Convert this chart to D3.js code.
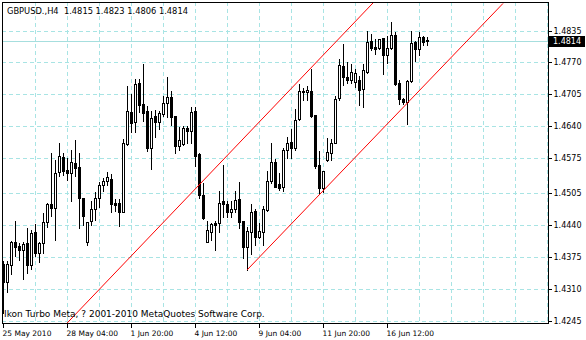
<!DOCTYPE html>
<html>
<head>
<meta charset="utf-8">
<script src="https://cdn.jsdelivr.net/npm/d3@7"></script>
<style>
  body { margin: 0; background: #fff; }
  svg { display: block; font-family: "DejaVu Sans", sans-serif; }
</style>
</head>
<body>
<svg id="chart" width="586" height="340"></svg>
<script>
// GBPUSD H4, 25 May 2010 12:00 onwards (one entry per 4h bar)
const symbol = "GBPUSD.,H4"
const copyright = "Ikon Turbo Meta, ? 2001-2010 MetaQuotes Software Corp."

const open = [
  1.4360,1.4324,1.4359,1.4404,1.4396,1.4389,1.4402,1.4359,1.4425,1.4383,
  1.4402,1.4445,1.4482,1.4474,1.4547,1.4578,1.4551,1.4545,1.4566,1.4557,
  1.4494,1.4404,1.4448,1.4472,1.4494,1.4520,1.4530,1.4534,1.4484,1.4484,
  1.4467,1.4604,1.4670,1.4648,1.4728,1.4686,1.4671,1.4596,1.4661,1.4648,
  1.4665,1.4687,1.4700,1.4661,1.4600,1.4604,1.4636,1.4631,1.4671,1.4584,
  1.4501,1.4406,1.4426,1.4443,1.4443,1.4488,1.4482,1.4465,1.4472,1.4492,
  1.4448,1.4395,1.4425,1.4468,1.4416,1.4426,1.4470,1.4529,1.4567,1.4522,
  1.4517,1.4592,1.4608,1.4596,1.4655,1.4709,1.4709,1.4711,1.4663,1.4562,
  1.4514,1.4572,1.4585,1.4606,1.4697,1.4763,1.4740,1.4734,1.4731,1.4734,
  1.4717,1.4751,1.4814,1.4801,1.4800,1.4819,1.4785,1.4799,1.4826,1.4728,
  1.4696,1.4690,1.4733,1.4811,1.4797,1.4821,1.4815
]
const high = [
  1.4368,1.4368,1.4409,1.4450,1.4404,1.4408,1.4436,1.4431,1.4443,1.4408,
  1.4467,1.4487,1.4587,1.4574,1.4608,1.4587,1.4577,1.4594,1.4614,1.4587,
  1.4496,1.4448,1.4490,1.4509,1.4530,1.4538,1.4549,1.4545,1.4494,1.4494,
  1.4616,1.4724,1.4707,1.4738,1.4738,1.4768,1.4684,1.4673,1.4675,1.4673,
  1.4704,1.4742,1.4715,1.4663,1.4641,1.4643,1.4643,1.4682,1.4682,1.4587,
  1.4528,1.4450,1.4446,1.4450,1.4511,1.4564,1.4490,1.4490,1.4511,1.4529,
  1.4450,1.4438,1.4484,1.4475,1.4446,1.4480,1.4551,1.4608,1.4575,1.4547,
  1.4599,1.4621,1.4637,1.4677,1.4728,1.4721,1.4724,1.4758,1.4665,1.4592,
  1.4551,1.4618,1.4616,1.4704,1.4779,1.4809,1.4773,1.4768,1.4758,1.4745,
  1.4768,1.4836,1.4829,1.4819,1.4819,1.4821,1.4826,1.4854,1.4833,1.4736,
  1.4700,1.4736,1.4836,1.4816,1.4833,1.4826,1.4823
]
const low = [
  1.4261,1.4304,1.4340,1.4377,1.4368,1.4330,1.4341,1.4350,1.4377,1.4365,
  1.4383,1.4435,1.4458,1.4409,1.4540,1.4541,1.4531,1.4489,1.4540,1.4434,
  1.4440,1.4399,1.4440,1.4450,1.4476,1.4508,1.4521,1.4466,1.4468,1.4438,
  1.4466,1.4603,1.4629,1.4629,1.4670,1.4650,1.4589,1.4553,1.4618,1.4634,
  1.4661,1.4659,1.4643,1.4585,1.4592,1.4602,1.4607,1.4607,1.4560,1.4494,
  1.4452,1.4404,1.4409,1.4389,1.4425,1.4456,1.4456,1.4456,1.4466,1.4433,
  1.4373,1.4348,1.4380,1.4399,1.4413,1.4398,1.4468,1.4524,1.4517,1.4511,
  1.4509,1.4575,1.4575,1.4593,1.4654,1.4694,1.4694,1.4660,1.4555,1.4504,
  1.4507,1.4570,1.4572,1.4606,1.4694,1.4724,1.4728,1.4728,1.4720,1.4684,
  1.4680,1.4749,1.4795,1.4787,1.4797,1.4747,1.4768,1.4797,1.4724,1.4686,
  1.4686,1.4644,1.4731,1.4772,1.4785,1.4806,1.4806
]
const close = [
  1.4324,1.4360,1.4404,1.4395,1.4389,1.4401,1.4359,1.4423,1.4383,1.4402,
  1.4445,1.4482,1.4475,1.4546,1.4580,1.4550,1.4546,1.4567,1.4556,1.4494,
  1.4458,1.4446,1.4472,1.4494,1.4520,1.4529,1.4537,1.4483,1.4481,1.4465,
  1.4606,1.4671,1.4646,1.4726,1.4684,1.4668,1.4597,1.4658,1.4648,1.4667,
  1.4687,1.4700,1.4660,1.4600,1.4612,1.4636,1.4631,1.4670,1.4580,1.4501,
  1.4454,1.4429,1.4441,1.4439,1.4485,1.4482,1.4465,1.4472,1.4490,1.4446,
  1.4395,1.4427,1.4465,1.4416,1.4427,1.4472,1.4529,1.4567,1.4517,1.4515,
  1.4593,1.4606,1.4596,1.4654,1.4712,1.4712,1.4714,1.4661,1.4560,1.4514,
  1.4549,1.4587,1.4606,1.4696,1.4765,1.4741,1.4734,1.4751,1.4749,1.4715,
  1.4755,1.4812,1.4800,1.4797,1.4817,1.4785,1.4799,1.4826,1.4726,1.4695,
  1.4690,1.4733,1.4809,1.4797,1.4821,1.4812,1.4814
]

const priceTicks = [1.4835, 1.4770, 1.4705, 1.4640, 1.4575, 1.4505, 1.4440, 1.4375, 1.4310, 1.4245]
const timeTickBars = [0, 16, 32, 48, 64, 80, 96]
const timeTickLabels = ["25 May 2010", "28 May 04:00", "1 Jun 20:00", "4 Jun 12:00",
                        "9 Jun 04:00", "11 Jun 20:00", "16 Jun 12:00"]

// equidistant channel, points as (bar, price)
const channelUpper = [{bar: 16, price: 1.4240}, {bar: 92.5, price: 1.4891}]
const channelLower = [{bar: 61, price: 1.4348}, {bar: 125, price: 1.4890}]

const plot = {left: 2, top: 2, right: 548, bottom: 323}
const gridColor = "#a8e4e4"

const svg = d3.select("#chart")

const x = d3.scaleLinear().domain([0, 136]).range([3, 547])
const y = d3.scaleLinear().domain([1.4245, 1.4835]).range([320.7, 30.5])
const px = v => Math.round(v) + 0.5

const data = open.map((o, i) => ({i, o, h: high[i], l: low[i], c: close[i]}))

svg.append("defs").append("clipPath").attr("id", "clip")
  .append("rect")
  .attr("x", plot.left).attr("y", plot.top)
  .attr("width", plot.right - plot.left).attr("height", plot.bottom - plot.top)

// grid
const grid = svg.append("g")
  .attr("stroke", gridColor)
  .attr("stroke-dasharray", "4,3")
  .attr("shape-rendering", "crispEdges")
grid.selectAll(".hg").data(priceTicks).join("line")
  .attr("x1", plot.left).attr("x2", plot.right)
  .attr("y1", d => px(y(d))).attr("y2", d => px(y(d)))
grid.selectAll(".vg").data(d3.range(8, 137, 8)).join("line")
  .attr("x1", d => px(x(d))).attr("x2", d => px(x(d)))
  .attr("y1", plot.top).attr("y2", plot.bottom)

// bid line
const last = data[data.length - 1]
svg.append("line")
  .attr("x1", plot.left).attr("x2", plot.right)
  .attr("y1", px(y(last.c))).attr("y2", px(y(last.c)))
  .attr("stroke", "#a6dede")
  .attr("shape-rendering", "crispEdges")

// candles
const candles = svg.append("g")
  .attr("clip-path", "url(#clip)")
  .attr("shape-rendering", "crispEdges")
  .selectAll("g").data(data).join("g")

candles.append("line")
  .attr("x1", d => px(x(d.i))).attr("x2", d => px(x(d.i)))
  .attr("y1", d => px(y(d.h))).attr("y2", d => px(y(d.l)))
  .attr("stroke", "#000")

candles.append("path")
  .attr("d", d => {
    const cx = px(x(d.i))
    const t = px(y(Math.max(d.o, d.c))), b = px(y(Math.min(d.o, d.c)))
    return `M${cx - 1},${t}H${cx + 1}V${b}H${cx - 1}Z`
  })
  .attr("fill", d => d.c >= d.o ? "#fff" : "#000")
  .attr("stroke", "#000")

// channel
const chLine = d3.line().x(d => x(d.bar)).y(d => y(d.price))
const ch = svg.append("g").attr("clip-path", "url(#clip)")
ch.append("path").attr("d", chLine(channelUpper))
  .attr("fill", "none").attr("stroke", "#ff0000").attr("stroke-width", 1)
ch.append("path").attr("d", chLine(channelLower))
  .attr("fill", "none").attr("stroke", "#ff0000").attr("stroke-width", 1)

// frame
svg.append("rect")
  .attr("x", plot.left + 0.5).attr("y", plot.top + 0.5)
  .attr("width", plot.right - plot.left).attr("height", plot.bottom - plot.top)
  .attr("fill", "none").attr("stroke", "#000")
  .attr("shape-rendering", "crispEdges")

// price axis
const yAxis = svg.append("g")
  .attr("transform", `translate(${plot.right + 0.5},0)`)
  .call(d3.axisRight(y).tickValues(priceTicks).tickSize(3).tickPadding(2)
    .tickFormat(d3.format(".4f")))
yAxis.select(".domain").remove()
yAxis.selectAll(".tick line").attr("shape-rendering", "crispEdges")
yAxis.selectAll(".tick").attr("transform", d => `translate(0,${px(y(d))})`)
yAxis.selectAll("text").attr("font-size", 8).attr("font-family", "DejaVu Sans").attr("fill", "#000")

// time axis
const xAxis = svg.append("g")
  .attr("transform", `translate(0,${plot.bottom + 0.5})`)
  .call(d3.axisBottom(x).tickValues(timeTickBars).tickSize(4).tickPadding(3)
    .tickFormat((d, i) => timeTickLabels[i]))
xAxis.select(".domain").remove()
xAxis.selectAll(".tick line").attr("shape-rendering", "crispEdges")
xAxis.selectAll(".tick").attr("transform", d => `translate(${px(x(d))},0)`)
xAxis.selectAll("text")
  .attr("text-anchor", "start").attr("x", -1)
  .attr("font-size", 7.5).attr("font-family", "DejaVu Sans").attr("fill", "#000")

// bid label
const bidY = px(y(last.c))
svg.append("rect")
  .attr("x", plot.right + 1).attr("y", bidY - 5.5)
  .attr("width", 36).attr("height", 11).attr("fill", "#000")
svg.append("text")
  .attr("x", plot.right + 5).attr("y", bidY).attr("dy", "0.32em")
  .attr("font-size", 8).attr("fill", "#fff")
  .text(d3.format(".4f")(last.c))

// header + copyright
svg.append("text")
  .attr("x", 7).attr("y", 14)
  .attr("font-size", 8.3).attr("fill", "#000")
  .attr("xml:space", "preserve")
  .text(`${symbol}  ${[last.o, last.h, last.l, last.c].map(d3.format(".4f")).join(" ")}`)

svg.append("text")
  .attr("x", 4).attr("y", 317)
  .attr("font-size", 9).attr("fill", "#000")
  .text(copyright)
</script>
</body>
</html>
